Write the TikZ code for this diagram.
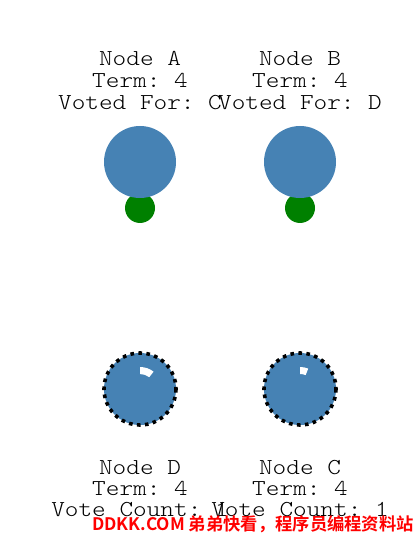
\documentclass[tikz,border=0pt]{standalone}
\usepackage{fontspec}
\setmonofont{Latin Modern Mono Light}[FakeStretch=1.14]
\newfontfamily\cjkfont{Noto Sans CJK SC Bold}
\definecolor{nodeblue}{HTML}{4682B4}
\definecolor{votegreen}{HTML}{008000}
\begin{document}
\begin{tikzpicture}[x=1pt,y=-1pt,
  lbl/.style={anchor=base,inner sep=0pt,font=\ttfamily\fontsize{22.8}{22}\selectfont},
  bigc/.style={circle,fill=nodeblue,minimum size=72pt,inner sep=0pt},
  greenc/.style={circle,fill=votegreen,minimum size=30pt,inner sep=0pt},
  candc/.style={circle,fill=nodeblue,minimum size=72pt,inner sep=0pt},
  ring/.style={draw=black,line width=3.6pt,dash pattern=on 3.6pt off 4.4pt},
  progress/.style={fill=white}
]
\useasboundingbox (0,0) rectangle (416,534);
% top nodes
\node[greenc] (ga) at (140,208) {};
\node[greenc] (gb) at (300,208) {};
\node[bigc] (a) at (140,162) {};
\node[bigc] (b) at (300,162) {};
\node[lbl] (a1) at (140,66) {Node A};
\node[lbl] (a2) at (140,87.7) {Term: 4};
\node[lbl] (a3) at (140,109.3) {Voted For: C};
\node[lbl] (b1) at (300,66) {Node B};
\node[lbl] (b2) at (300,87.7) {Term: 4};
\node[lbl] (b3) at (300,109.3) {Voted For: D};
% bottom nodes
\node[candc] (d) at (140,389) {};
\node[candc] (c) at (300,389) {};
\draw[ring] (d.center) circle[radius=36];
\draw[ring] (c.center) circle[radius=36];
\fill[progress] ([shift={(-90:22)}]d.center) arc[start angle=-90,end angle=-52,radius=22]
  -- ([shift={(-52:15)}]d.center) arc[start angle=-52,end angle=-90,radius=15] -- cycle;
\fill[progress] ([shift={(-90:22)}]c.center) arc[start angle=-90,end angle=-68,radius=22]
  -- ([shift={(-68:15)}]c.center) arc[start angle=-68,end angle=-90,radius=15] -- cycle;
\node[lbl] (d1) at (140,474) {Node D};
\node[lbl] (d2) at (140,495) {Term: 4};
\node[lbl] (d3) at (140,516) {Vote Count: 1};
\node[lbl] (c1) at (300,474) {Node C};
\node[lbl] (c2) at (300,495) {Term: 4};
\node[lbl] (c3) at (300,516) {Vote Count: 1};
\node[anchor=base west,inner sep=0pt,text=red,font=\cjkfont\fontsize{17.3}{17}\selectfont] (wm) at (92,530) {DDKK.COM 弟弟快看，程序员编程资料站};
\end{tikzpicture}
\end{document}
